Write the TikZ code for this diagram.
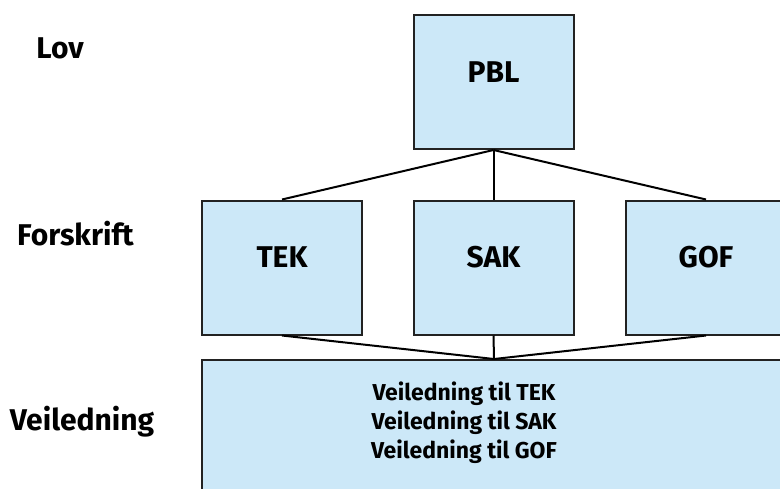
\documentclass[tikz,border=0pt]{standalone}
\usepackage{fontspec}
\setmainfont{Fira Sans}
\definecolor{boxblue}{RGB}{204,232,248}
\definecolor{boxline}{RGB}{34,34,34}
\begin{document}
\begin{tikzpicture}[
        x=0.5pt,
        y=-0.5pt,
        line width=1pt,
        font=\bfseries
    ]
    \tikzset{
        levelbox/.style = {rectangle, draw=boxline, fill=boxblue, minimum width=80pt, minimum height=67pt, font=\bfseries\fontsize{15}{18}\selectfont, text height=10pt, text depth=10pt},
        guidebox/.style = {rectangle, draw=boxline, fill=boxblue, minimum width=292pt, minimum height=70pt},
        levellabel/.style = {anchor=base, inner sep=0pt, font=\bfseries\fontsize{15}{18}\selectfont},
        guidetext/.style = {align=center, font=\bfseries\fontsize{11.5}{14.5}\selectfont},
        edgen/.style = {-, line width=1pt, black},
    }
    \useasboundingbox (0,0) rectangle (780,488);
    \clip (0,0) rectangle (780,488);
    \node[levellabel] (lov) at (60,58) {Lov};
    \node[levellabel] (forskrift) at (75.5,245) {Forskrift};
    \node[levellabel] (veiledning) at (82,430) {Veiledning};
    %
    \node[levelbox] at (493.5,82) (pbl) {PBL};
    \node[levelbox] at (282,267.5) (tek) {TEK};
    \node[levelbox] at (493.5,267.5) (sak) {SAK};
    \node[levelbox] at (706,267.5) (gof) {GOF};
    \node[guidebox] at (494,430) (vb) {};
    \node[guidetext] at (464,423) (vbtext) {Veiledning til TEK\\Veiledning til SAK\\Veiledning til GOF};
    %
    \draw[edgen] (pbl.south) -- (tek.north);
    \draw[edgen] (pbl.south) -- (sak.north);
    \draw[edgen] (pbl.south) -- (gof.north);
    %
    \draw[edgen] (tek.south) -- (vb.north);
    \draw[edgen] (sak.south) -- (vb.north);
    \draw[edgen] (gof.south) -- (vb.north);
\end{tikzpicture}
\end{document}
